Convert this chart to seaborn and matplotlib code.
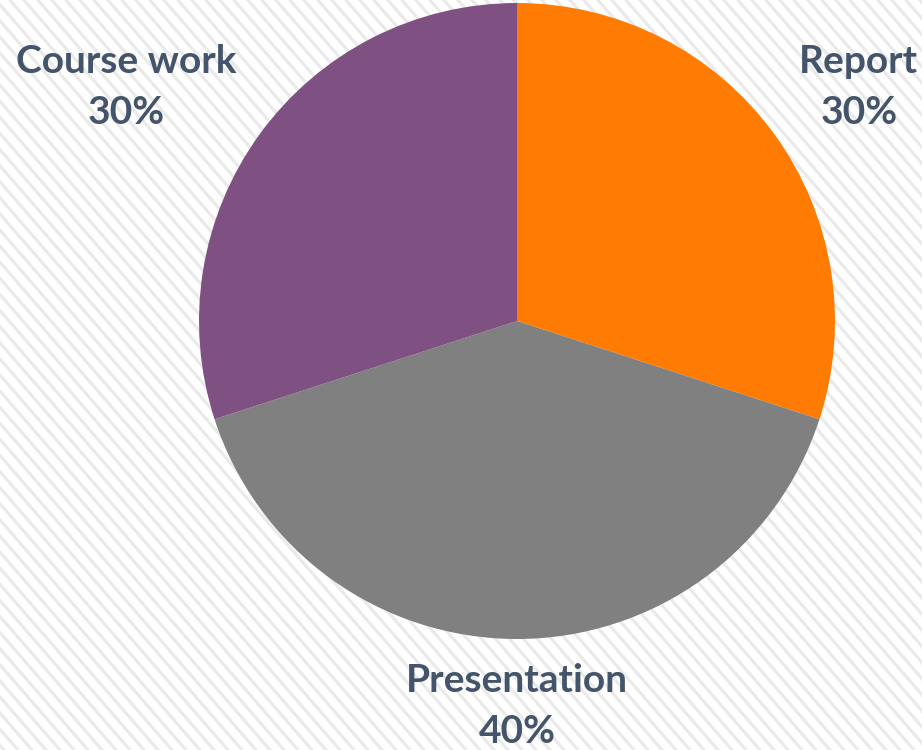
import numpy as np
import matplotlib
matplotlib.use("Agg")
import matplotlib.pyplot as plt
import seaborn as sns

CATEGORIES = ["Report", "Presentation", "Course work"]
SHARES = [30, 40, 30]
COLORS = ["#FF7B02", "#808080", "#7F5182"]
TEXT_COLOR = "#44546A"


def main():
    sns.set_theme(style="white")
    plt.rcParams["font.family"] = ["Lato", "DejaVu Sans"]

    W, H, R = 922, 750, 318
    cx, cy = 517, 321
    fig = plt.figure(figsize=(W / 100, H / 100), dpi=100)
    ax = fig.add_axes([0, 0, 1, 1])

    # striped background
    xs = np.array([-4, 4])
    for off in np.arange(-6, 6, 14 / R):
        ax.plot(xs, -1.15 * (xs - off), color="#EAEAEA", lw=2.3, zorder=0,
                solid_capstyle="butt")

    ax.pie(SHARES, colors=COLORS, startangle=90, counterclock=False,
           radius=1, center=(0, 0), frame=True,
           wedgeprops=dict(linewidth=0, antialiased=True))
    ax.set_xlim(-cx / R, (W - cx) / R)
    ax.set_ylim(-(H - cy) / R, cy / R)
    ax.set_aspect("auto")
    ax.axis("off")

    # label centres, in radius units
    label_pos = {"Report": (1.075, 0.735), "Presentation": (0.0, -1.21),
                 "Course work": (-1.23, 0.735)}
    for cat, share in zip(CATEGORIES, SHARES):
        x, y = label_pos[cat]
        ax.text(x, y, f"{cat}\n{share}%", ha="center", va="center", fontsize=28,
                fontweight="bold", color=TEXT_COLOR, linespacing=1.55)

    fig.savefig("out.png", dpi=100)


if __name__ == "__main__":
    main()
